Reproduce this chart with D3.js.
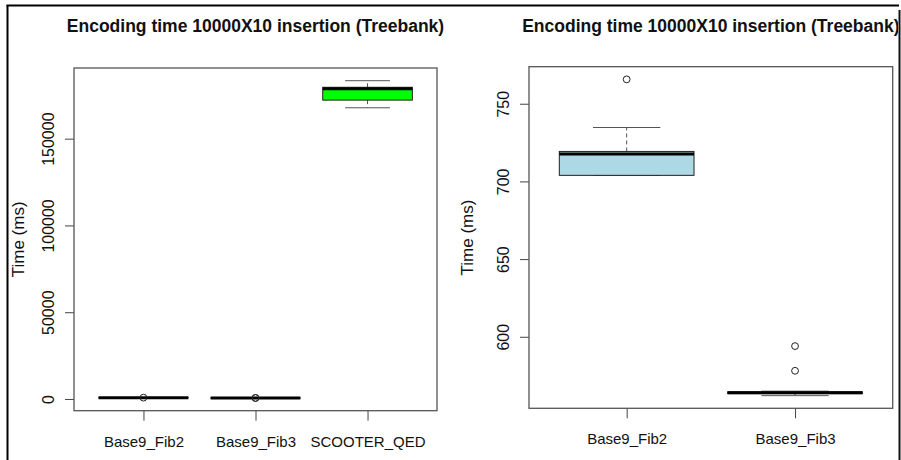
<!DOCTYPE html>
<html>
<head>
<meta charset="utf-8">
<script src="https://cdn.jsdelivr.net/npm/d3@7"></script>
<style>
  html, body { margin: 0; padding: 0; background: #fff; }
  svg { display: block; font-family: "Liberation Sans", Arial, sans-serif; }
</style>
</head>
<body>
<svg id="chart" width="901" height="460"></svg>
<script>
// ---- data ----
const categories   = ["Base9_Fib2", "Base9_Fib3", "SCOOTER_QED"];
const whiskerLow   = [703.9, 562.1, 167800];
const q1Values     = [703.9, 563.4, 172200];
const medianValues = [717.7, 564.0, 178800];
const q3Values     = [719.3, 564.6, 179600];
const whiskerHigh  = [734.7, 565.0, 183400];
const outliers     = [[765.7], [594.0, 578.1], []];
const boxFills     = ["#ADD8E6", "#ADD8E6", "#00FF00"];

const leftPanelCats  = [0, 1, 2];
const rightPanelCats = [0, 1];
const leftTicks  = [0, 50000, 100000, 150000];
const rightTicks = [600, 650, 700, 750];

const titleText = "Encoding time 10000X10 insertion (Treebank)";
const yLabel = "Time (ms)";

// ---- drawing ----
const svg = d3.select("#chart");

function drawPanel(idxs, box, ticks, labelOffset) {
  const g = svg.append("g");
  const n = idxs.length;
  const vals = [];
  idxs.forEach(i => { vals.push(whiskerLow[i], whiskerHigh[i], ...outliers[i]); });
  const lo = d3.min(vals), hi = d3.max(vals), pad = (hi - lo) * 0.04;
  const y = d3.scaleLinear().domain([lo - pad, hi + pad]).range([box.y1, box.y0]);
  const x = d3.scaleLinear().domain([0.5 - 0.04 * n, n + 0.5 + 0.04 * n]).range([box.x0, box.x1]);

  // title
  g.append("text")
    .attr("x", (box.x0 + box.x1) / 2).attr("y", 32)
    .attr("text-anchor", "middle")
    .style("font-weight", "bold").style("font-size", "17.5px")
    .attr("fill", "#111")
    .text(titleText);

  // y axis
  const ya = g.append("g").attr("transform", `translate(${box.x0},0)`)
    .call(d3.axisLeft(y).tickValues(ticks).tickSize(9).tickFormat(d3.format("d")));
  ya.select(".domain").remove();
  ya.selectAll(".tick line").attr("stroke", "#444");
  ya.selectAll(".tick text")
    .attr("transform", "rotate(-90)")
    .attr("x", 0).attr("y", -20).attr("dy", 0)
    .attr("text-anchor", "middle")
    .style("font-size", "16px").attr("fill", "#111");

  // x axis
  const xa = g.append("g").attr("transform", `translate(0,${box.y1})`)
    .call(d3.axisBottom(x).tickValues(d3.range(1, n + 1)).tickSize(10)
      .tickFormat(k => categories[idxs[k - 1]]));
  xa.select(".domain").remove();
  xa.selectAll(".tick line").attr("stroke", "#444");
  xa.selectAll(".tick text").attr("y", 36).attr("dy", 0)
    .style("font-size", "15px").attr("fill", "#111");

  // y label
  g.append("text")
    .attr("transform", `translate(${box.x0 - labelOffset},${(box.y0 + box.y1) / 2}) rotate(-90)`)
    .attr("text-anchor", "middle").attr("dy", "0.35em")
    .style("font-size", "17px").attr("fill", "#111")
    .text(yLabel);

  // boxes
  idxs.forEach((ci, k) => {
    const pos = k + 1;
    const bx0 = x(pos - 0.4), bx1 = x(pos + 0.4);
    const cx0 = x(pos - 0.2), cx1 = x(pos + 0.2);
    const cx = x(pos);
    // whiskers
    g.append("line").attr("x1", cx).attr("x2", cx)
      .attr("y1", y(q3Values[ci])).attr("y2", y(whiskerHigh[ci]))
      .attr("stroke", "#555").attr("stroke-dasharray", "4,3");
    g.append("line").attr("x1", cx).attr("x2", cx)
      .attr("y1", y(q1Values[ci])).attr("y2", y(whiskerLow[ci]))
      .attr("stroke", "#555").attr("stroke-dasharray", "4,3");
    // staples
    [whiskerHigh[ci], whiskerLow[ci]].forEach(v => {
      g.append("line").attr("x1", cx0).attr("x2", cx1)
        .attr("y1", y(v)).attr("y2", y(v)).attr("stroke", "#555");
    });
    // box
    g.append("rect")
      .attr("x", bx0).attr("width", bx1 - bx0)
      .attr("y", y(q3Values[ci])).attr("height", Math.max(0, y(q1Values[ci]) - y(q3Values[ci])))
      .attr("fill", boxFills[ci]).attr("stroke", "#222").attr("stroke-width", 1);
    // median
    g.append("line").attr("x1", bx0).attr("x2", bx1)
      .attr("y1", y(medianValues[ci])).attr("y2", y(medianValues[ci]))
      .attr("stroke", "#000").attr("stroke-width", 3);
    // outliers
    outliers[ci].forEach(v => {
      g.append("circle").attr("cx", cx).attr("cy", y(v)).attr("r", 3.4)
        .attr("fill", "none").attr("stroke", "#222").attr("stroke-width", 1);
    });
  });

  // plot frame
  g.append("rect")
    .attr("x", box.x0).attr("y", box.y0)
    .attr("width", box.x1 - box.x0).attr("height", box.y1 - box.y0)
    .attr("fill", "none").attr("stroke", "#555").attr("stroke-width", 1.3);
}

drawPanel(leftPanelCats,  { x0: 74,  x1: 437,   y0: 68,   y1: 410.7 }, leftTicks, 56);
drawPanel(rightPanelCats, { x0: 529, x1: 892.7, y0: 66.7, y1: 408.3 }, rightTicks, 62);

// outer screenshot frame
svg.append("line").attr("x1", 7.5).attr("x2", 7.5).attr("y1", 5).attr("y2", 460)
  .attr("stroke", "#000").attr("stroke-width", 2);
svg.append("line").attr("x1", 6.5).attr("x2", 899).attr("y1", 5.5).attr("y2", 5.5)
  .attr("stroke", "#000").attr("stroke-width", 2);
svg.append("rect").attr("x", 898).attr("y", 10).attr("width", 3).attr("height", 450).attr("fill", "#fff");
svg.append("line").attr("x1", 899.5).attr("x2", 899.5).attr("y1", 10).attr("y2", 460)
  .attr("stroke", "#111").attr("stroke-width", 2);
</script>
</body>
</html>
